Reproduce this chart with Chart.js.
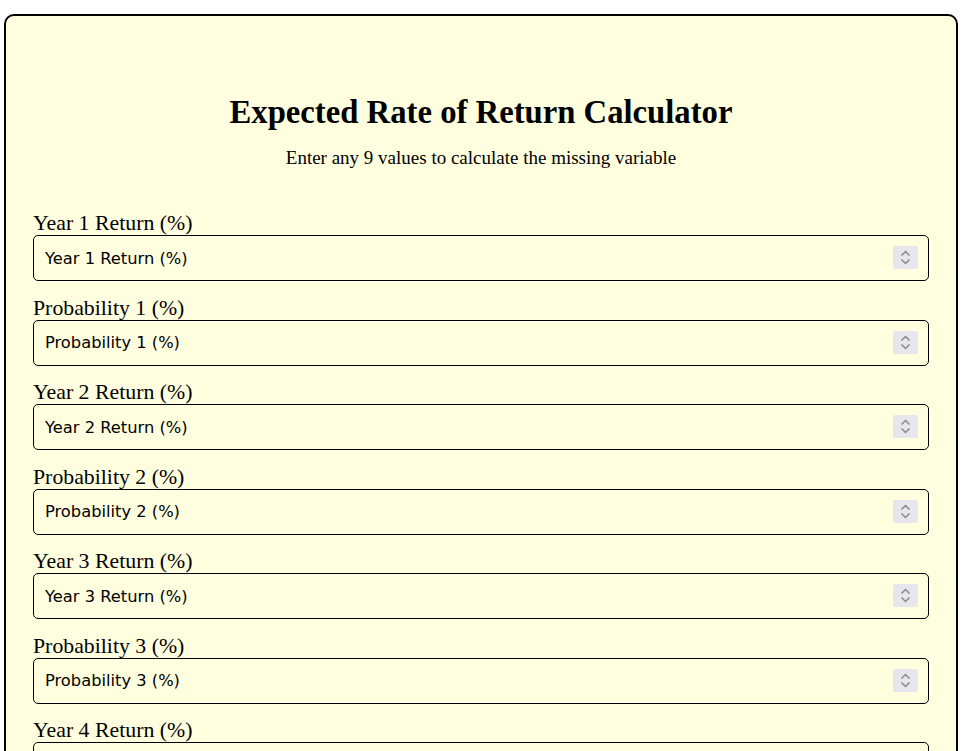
<!DOCTYPE html>
<html><head><meta charset="utf-8">
<script src="https://cdn.jsdelivr.net/npm/chart.js@4"></script>
<style>
html,body{margin:0;padding:0;background:#fff;}
.wrap{position:absolute;left:4px;top:14px;width:954px;min-height:900px;border:2px solid #000;border-radius:10px;background:#ffffe0;box-sizing:border-box;padding:0 27px;}
h1{font-family:"Liberation Serif","Times New Roman",serif;font-weight:bold;font-size:32.7px;text-align:center;margin:78px 0 0 0;line-height:36px;}
.sub{font-family:"Liberation Serif",serif;font-size:19px;text-align:center;margin:17px 0 0 0;line-height:22px;}
form{margin-top:42px;}
label{display:block;font-family:"Liberation Serif",serif;font-size:21.8px;line-height:24px;height:24px;}
.box{position:relative;width:896px;height:46px;margin:0 0 14.5px 0;}
input{display:block;width:896px;height:46px;box-sizing:border-box;border:1px solid #000;border-radius:5px;background:#ffffe0;font-family:"DejaVu Sans",Verdana,sans-serif;font-size:16.3px;padding:0 11px;margin:0;}
input::placeholder{color:#000;}
input::-webkit-inner-spin-button{display:none;}
.spin{position:absolute;right:11px;top:11px;width:25px;height:23px;background:#e6e6ec;border-radius:2px;pointer-events:none;}
.spin svg{display:block;}
#chartBox{width:896px;height:300px;margin-top:20px;}
</style></head><body>
<div class="wrap">
<h1>Expected Rate of Return Calculator</h1>
<p class="sub">Enter any 9 values to calculate the missing variable</p>
<form id="f"></form>
<div id="chartBox"><canvas id="c"></canvas></div>
</div>
<script>
const fieldLabels = ["Year 1 Return (%)","Probability 1 (%)","Year 2 Return (%)","Probability 2 (%)","Year 3 Return (%)","Probability 3 (%)","Year 4 Return (%)","Probability 4 (%)","Year 5 Return (%)","Probability 5 (%)"];
const scenarios = ["Year 1","Year 2","Year 3","Year 4","Year 5"];
const returnValues = [null,null,null,null,null];
const f=document.getElementById('f');
fieldLabels.forEach((t,i)=>{
  const l=document.createElement('label');l.textContent=t;l.htmlFor='in'+i;
  const b=document.createElement('div');b.className='box';
  const inp=document.createElement('input');inp.type='number';inp.id='in'+i;inp.placeholder=t;
  const s=document.createElement('span');s.className='spin';
  s.innerHTML='<svg width="25" height="23"><path d="M8.5 9.5 L12.5 5.5 L16.5 9.5 M8.5 13.5 L12.5 17.5 L16.5 13.5" fill="none" stroke="#888" stroke-width="1.5"/></svg>';
  b.appendChild(inp);b.appendChild(s);
  f.appendChild(l);f.appendChild(b);
});
new Chart(document.getElementById('c'),{type:'bar',data:{labels:scenarios,datasets:[{label:'Return (%)',data:returnValues,backgroundColor:'#888'}]},options:{responsive:true,maintainAspectRatio:false,animation:false}});
</script>
</body></html>
